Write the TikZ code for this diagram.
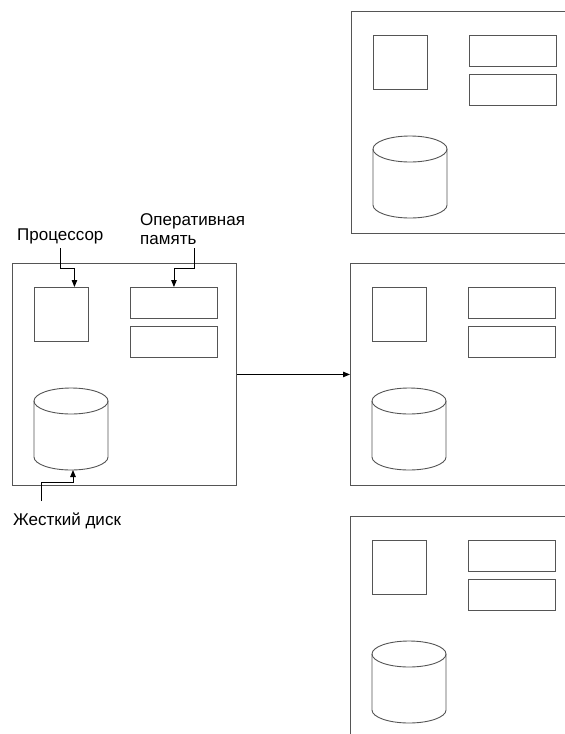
\documentclass[tikz,border=0pt]{standalone}
\usepackage{fontspec}
\setmainfont{Liberation Sans}
\usetikzlibrary{arrows.meta,calc}
\definecolor{edge}{HTML}{555555}

% one computer: outer frame, CPU, two RAM modules and a disk cylinder
\newcommand\serverunit[3]{%
  \begin{scope}[shift={(#2,#3)}]
    \node[frame] (#1) at (0,0) {};
    \node[cpubox] (#1cpu) at (22,24) {};
    \node[rambox] (#1rama) at (118,24) {};
    \node[rambox] (#1ramb) at (118,63) {};
    \draw[disk] (22,138) -- (22,194)
      arc[start angle=180,end angle=360,x radius=37pt,y radius=13pt] -- (96,138);
    \draw[disk] (59,138) ellipse[x radius=37pt,y radius=13pt];
    \coordinate (#1disk) at (59,207);
  \end{scope}}

\begin{document}
\begin{tikzpicture}[x=1pt,y=-1pt,
  frame/.style={draw=edge, line width=0.9pt, anchor=north west, inner sep=0,
                minimum width=224pt, minimum height=222pt},
  part/.style={draw=edge, line width=0.9pt, anchor=north west, inner sep=0},
  cpubox/.style={part, minimum width=54pt, minimum height=54pt},
  rambox/.style={part, minimum width=87pt, minimum height=31pt},
  disk/.style={draw=edge, line width=0.9pt},
  lbl/.style={inner sep=0, font=\fontsize{17}{19.5}\selectfont},
  link/.style={draw=black, line width=0.9pt, -{Triangle[length=7pt,width=5.5pt]}}]

\useasboundingbox (0,0) rectangle (565,734);
\clip (0,0) rectangle (565,734);

\serverunit{srv0}{12}{263}
\serverunit{srv1}{351}{11}
\serverunit{srv2}{350}{263}
\serverunit{srv3}{350}{516}

% labels
\node[lbl, anchor=base west] (cpulabel) at (17,240) {Процессор};
\node[lbl, anchor=north west, align=left] (ramlabel) at (140,213) {Оперативная\\память};
\node[lbl, anchor=base west] (disklabel) at (13,525) {Жесткий диск};

% label pointers
\coordinate (cpufrom) at (60,248);
\coordinate (ramfrom) at (194,248);
\coordinate (diskfrom) at (41,501);
\draw[link] (cpufrom) -- ++(0,20) -| ([xshift=13pt]srv0cpu.north);
\draw[link] (ramfrom) -- ++(0,20) -| (srv0rama.north);
\draw[link] (diskfrom) -- ++(0,-19) -| ([xshift=2pt]srv0disk);

% scaling out
\draw[link] (srv0.east) -- (srv2.west);
\end{tikzpicture}
\end{document}
